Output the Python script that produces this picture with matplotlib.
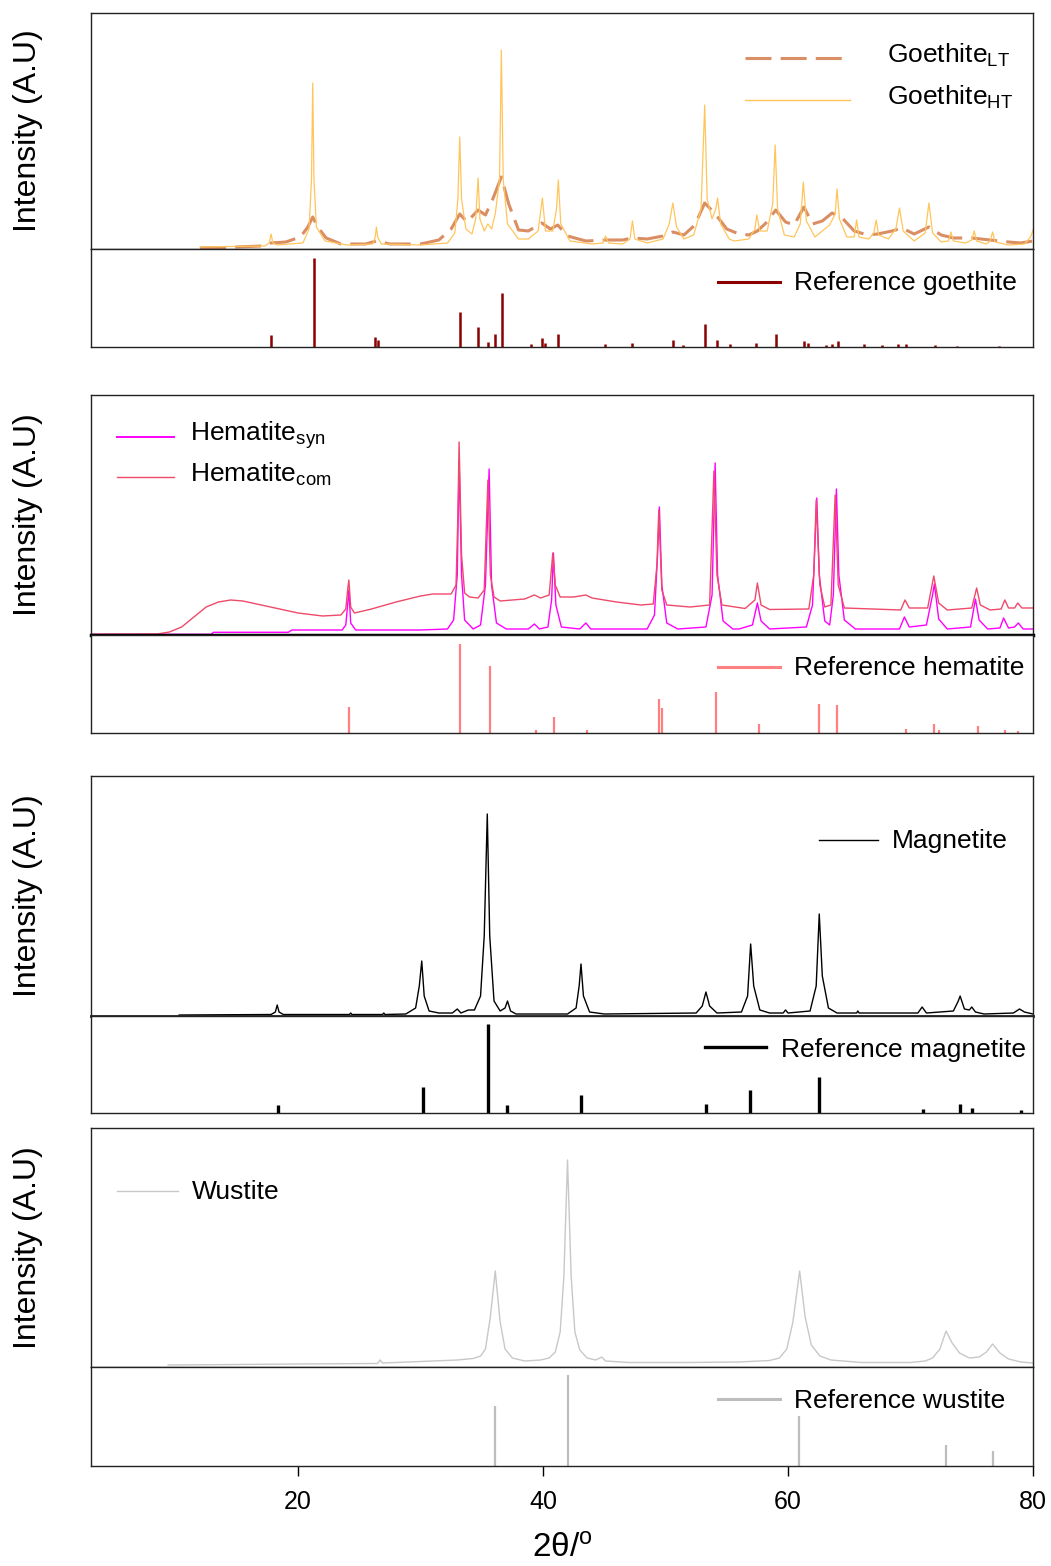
import matplotlib
matplotlib.use("Agg")
import matplotlib.pyplot as plt

plt.rcParams['font.family'] = ['Liberation Sans', 'DejaVu Sans']
plt.rcParams['mathtext.default'] = 'regular'

goethite_lt = [
    (12.0, 1), (14.0, 1.5), (17.0, 3), (17.8, 6), (19.0, 7), (20.2, 12), (20.8, 22),
    (21.2, 32), (21.6, 22), (22.3, 11), (23.5, 5), (25.5, 5), (26.4, 8), (27.5, 5),
    (30.0, 5), (31.5, 9), (32.5, 20), (33.2, 35), (33.8, 27), (34.7, 39), (35.3, 34),
    (35.9, 50), (36.6, 72), (37.2, 45), (38.0, 19), (38.8, 18), (39.9, 26), (40.6, 20),
    (41.2, 24), (42.0, 13), (43.5, 8), (45.2, 9), (46.5, 9), (47.3, 11), (48.5, 10),
    (49.8, 13), (50.6, 17), (51.5, 14), (52.4, 24), (53.2, 46), (54.0, 36), (55.0, 20),
    (56.0, 15), (56.8, 14), (57.5, 18), (58.2, 26), (59.0, 39), (59.8, 27), (60.5, 24),
    (61.3, 42), (62.0, 25), (62.8, 28), (63.6, 36), (64.5, 30), (65.4, 18), (66.5, 14),
    (67.3, 15), (68.5, 18), (69.3, 21), (70.3, 15), (71.5, 22), (72.5, 14), (73.5, 11),
    (75.0, 11), (76.5, 9), (78.0, 7), (79.0, 6), (80.0, 8),
]
goethite_ht = [
    (12.0, 2), (17.3, 3), (17.65, 6), (17.8, 15), (17.95, 6), (18.3, 4),
    (20.4, 6), (20.9, 20), (21.1, 70), (21.2, 166), (21.3, 70), (21.5, 22), (22.2, 8),
    (24.0, 4), (26.1, 5), (26.3, 12), (26.4, 22), (26.5, 12), (26.8, 5),
    (30.0, 4), (32.2, 6), (32.8, 16), (33.05, 50), (33.2, 112), (33.35, 50), (33.7, 20),
    (34.2, 15), (34.5, 30), (34.7, 71), (34.85, 30), (35.2, 18), (35.5, 25), (35.8, 20),
    (36.1, 35), (36.45, 70), (36.6, 199), (36.75, 70), (37.1, 25), (38.0, 10), (38.8, 10),
    (39.6, 18), (39.95, 51), (40.2, 18), (40.8, 18), (41.1, 40), (41.25, 69), (41.45, 25),
    (42.2, 8), (44.0, 5), (44.9, 6), (45.1, 13), (45.35, 6), (46.5, 5), (47.1, 10),
    (47.3, 28), (47.5, 10), (48.5, 6), (49.8, 10), (50.3, 25), (50.6, 46), (50.9, 22),
    (51.5, 10), (52.3, 14), (52.9, 40), (53.2, 144), (53.4, 50), (53.8, 30), (54.1, 40),
    (54.25, 51), (54.5, 25), (55.2, 10), (55.6, 8), (56.8, 10), (57.3, 20), (57.45, 34),
    (57.7, 18), (58.3, 18), (58.75, 45), (58.95, 104), (59.15, 40), (59.7, 14), (60.5, 12),
    (61.0, 25), (61.25, 67), (61.5, 28), (62.2, 12), (62.8, 18), (63.4, 24), (63.85, 35),
    (64.0, 60), (64.2, 30), (64.8, 12), (65.4, 12), (65.6, 29), (65.8, 12), (66.6, 10),
    (67.0, 16), (67.2, 29), (67.4, 14), (68.2, 10), (68.8, 20), (69.1, 41), (69.4, 18),
    (70.3, 8), (71.2, 16), (71.5, 46), (71.8, 16), (72.5, 7), (73.1, 8), (73.3, 17),
    (73.5, 8), (74.5, 6), (75.0, 9), (75.2, 18), (75.4, 8), (76.2, 5), (76.5, 8),
    (76.7, 17), (76.9, 7), (78.0, 4), (79.3, 5), (79.8, 12), (80.0, 19),
]
hematite_syn = [
    (3.0, 0.7), (12.9, 0.7), (13.1, 2.7), (19.2, 2.7), (19.5, 5), (23.6, 5), (23.9, 10),
    (24.05, 30), (24.15, 45), (24.3, 12), (24.7, 5), (30.0, 5), (32.2, 6), (32.7, 15),
    (33.0, 60), (33.15, 175), (33.35, 60), (33.6, 15), (34.3, 6), (34.9, 10), (35.3, 50),
    (35.6, 166), (35.8, 50), (36.2, 12), (37.0, 6), (38.8, 6), (39.3, 11), (39.7, 6),
    (40.4, 8), (40.7, 35), (40.85, 82), (41.05, 30), (41.5, 8), (43.0, 6), (43.5, 12),
    (43.9, 6), (48.5, 6), (49.1, 20), (49.35, 80), (49.5, 128), (49.7, 50), (50.1, 12),
    (51.0, 6), (53.3, 8), (53.8, 40), (54.05, 172), (54.25, 60), (54.7, 14), (55.5, 6),
    (56.0, 6), (57.1, 10), (57.5, 32), (57.8, 14), (58.5, 6), (61.5, 8), (62.0, 30),
    (62.35, 137), (62.55, 60), (63.0, 14), (63.4, 10), (63.7, 40), (63.95, 146),
    (64.15, 60), (64.6, 15), (65.5, 6), (69.1, 6), (69.5, 18), (69.9, 8), (71.3, 10),
    (71.8, 40), (71.95, 51), (72.3, 16), (73.0, 6), (74.9, 8), (75.3, 36), (75.6, 15),
    (76.3, 6), (77.3, 7), (77.6, 17), (78.0, 7), (78.5, 8), (78.8, 12), (79.2, 6), (80.0, 6),
]
hematite_com = [
    (3.0, 0.7), (8.5, 1), (9.5, 3), (10.5, 8), (11.5, 18), (12.5, 28), (13.5, 33),
    (14.5, 35), (15.5, 34), (17.0, 30), (18.5, 26), (20.0, 22), (22.0, 19), (23.5, 20),
    (23.9, 26), (24.05, 45), (24.15, 55), (24.3, 28), (24.6, 22), (26.0, 26), (28.0, 33),
    (30.0, 39), (31.0, 41), (32.5, 41), (32.9, 50), (33.05, 120), (33.15, 193),
    (33.35, 80), (33.6, 42), (34.0, 38), (34.7, 37), (35.2, 45), (35.5, 155), (35.7, 60),
    (36.0, 38), (36.5, 34), (38.5, 36), (39.3, 40), (39.8, 37), (40.5, 40), (40.8, 82),
    (41.0, 50), (41.4, 38), (42.5, 38), (43.5, 40), (44.0, 37), (46.0, 33), (48.0, 30),
    (49.0, 31), (49.3, 70), (49.45, 125), (49.7, 45), (50.1, 30), (52.0, 28), (53.6, 30),
    (53.95, 164), (54.2, 60), (54.6, 30), (56.5, 26.5), (57.3, 35), (57.5, 52), (57.8, 30),
    (58.5, 25.5), (61.7, 26), (62.1, 60), (62.3, 135), (62.6, 50), (63.0, 28), (63.5, 30),
    (63.85, 140), (64.1, 50), (64.6, 27), (69.2, 25), (69.55, 35), (69.9, 27), (71.4, 27),
    (71.9, 59), (72.3, 32), (73.0, 25), (75.0, 27), (75.4, 47), (75.7, 30), (76.5, 25),
    (77.4, 26), (77.7, 35), (78.0, 27), (78.5, 27), (78.75, 32), (79.1, 27), (80.0, 27),
]
magnetite = [
    (10.3, 1), (17.8, 1.5), (18.15, 4), (18.3, 11), (18.45, 4), (18.8, 1.5), (24.2, 1.5),
    (24.3, 3), (24.4, 1.5), (26.9, 1.5), (27.0, 3), (27.1, 1.5), (28.8, 2), (29.6, 8),
    (29.9, 30), (30.1, 55), (30.3, 20), (30.7, 5), (31.5, 3), (32.6, 3), (33.0, 7),
    (33.3, 3), (33.9, 6), (34.4, 6), (34.9, 20), (35.2, 80), (35.45, 202), (35.65, 80),
    (36.0, 15), (36.5, 5), (36.9, 8), (37.1, 15), (37.35, 5), (37.8, 2), (42.0, 2),
    (42.7, 8), (42.95, 30), (43.1, 52), (43.3, 20), (43.8, 4), (45.0, 2), (52.5, 3),
    (53.0, 10), (53.3, 24), (53.6, 10), (54.2, 3), (56.2, 4), (56.7, 20), (56.95, 72),
    (57.2, 30), (57.7, 6), (58.5, 3), (59.6, 3), (59.8, 6), (60.0, 3), (61.8, 5),
    (62.3, 30), (62.55, 102), (62.8, 40), (63.3, 8), (64.0, 3), (65.6, 3), (65.7, 5),
    (65.8, 3), (70.6, 3), (70.95, 9), (71.3, 3), (73.5, 5), (73.9, 15), (74.05, 20),
    (74.4, 7), (74.8, 6), (75.0, 9), (75.3, 4), (76.0, 2), (78.4, 3), (78.9, 7),
    (79.3, 4), (80.0, 2),
]
wustite = [
    (9.4, 2), (15.0, 2.5), (20.0, 3), (26.5, 3.5), (26.7, 7), (26.9, 4), (28.0, 4.5),
    (30.0, 5.5), (33.0, 7), (34.3, 8.5), (34.9, 11), (35.3, 18), (35.7, 50), (36.1, 96),
    (36.5, 45), (36.9, 18), (37.5, 9), (38.5, 6), (39.8, 7), (40.5, 9), (41.0, 15),
    (41.4, 35), (41.7, 90), (42.0, 207), (42.3, 90), (42.6, 35), (43.0, 17), (43.6, 9),
    (44.3, 7), (44.8, 10), (45.1, 6), (47.0, 4.5), (52.0, 4.5), (56.0, 5), (58.5, 6.5),
    (59.3, 9), (59.9, 18), (60.4, 45), (60.95, 96), (61.4, 50), (61.9, 22), (62.6, 11),
    (63.5, 7), (66.0, 4.5), (70.0, 4.5), (71.2, 6), (71.8, 9), (72.4, 18), (72.9, 36),
    (73.4, 24), (74.0, 14), (74.8, 9), (75.6, 10), (76.2, 15), (76.7, 23), (77.3, 14),
    (78.0, 8), (79.0, 5), (80.0, 4),
]

# ---- reference stick patterns: (2theta, relative intensity %) ----
ref_goethite = [
    (17.8, 12), (21.3, 91), (26.3, 10), (26.5, 7), (33.2, 36), (34.7, 20), (35.5, 5),
    (36.1, 13), (36.65, 55), (39.0, 3), (39.95, 9), (40.2, 4), (41.2, 13), (45.1, 3),
    (47.3, 4.5), (50.6, 7), (51.4, 2), (53.2, 23), (54.2, 7), (55.3, 3), (57.4, 4.5),
    (59.0, 13.5), (61.3, 6), (61.6, 4), (63.1, 2), (63.6, 3), (64.1, 6), (66.2, 3),
    (67.7, 2), (69.0, 3), (69.6, 3), (72.0, 2.5), (73.8, 1.5), (77.2, 1.5),
]
ref_hematite = [
    (24.2, 27), (33.2, 91), (35.7, 68), (39.4, 3), (40.9, 16), (43.6, 3), (49.5, 35),
    (49.7, 25), (54.1, 42), (57.6, 9), (62.5, 30), (64.0, 29), (69.6, 4), (71.9, 9),
    (72.3, 3), (75.5, 7), (77.7, 3), (78.8, 2),
]
ref_magnetite = [
    (18.4, 8), (30.2, 26.5), (35.5, 92), (37.1, 8), (43.1, 19), (53.3, 9), (56.9, 23.7),
    (62.5, 37), (71.0, 4), (74.0, 9), (75.0, 5), (79.0, 3),
]
ref_wustite = [(36.1, 60.5), (42.0, 92), (60.9, 50), (72.9, 21), (76.7, 15)]

xticks = [20, 40, 60, 80]

FS = 19

fig = plt.figure(figsize=(10.51, 15.66), dpi=100)
L, W = 0.08659, 0.89629
top_rects = [(0.84100, 0.15070), (0.59451, 0.15326), (0.35121, 0.15326), (0.12708, 0.15262)]
ref_rects = [(0.77842, 0.06258), (0.53193, 0.06258), (0.28927, 0.06194), (0.06386, 0.06322)]
top_h = [236, 240, 240, 239]


def style(ax):
    ax.set_xlim(3.1, 80)
    ax.set_yticks([])
    ax.tick_params(axis='x', bottom=False, labelbottom=False)
    for s in ax.spines.values():
        s.set_linewidth(1.0)
        s.set_color('#222222')


def key(ax, x0, x1, yl, xt, yt, label, **kw):
    ax.plot([x0, x1], [yl, yl], transform=ax.transAxes, clip_on=False, **kw)
    ax.text(xt, yt, label, transform=ax.transAxes, fontsize=FS, va='baseline')


tops, refs = [], []
for i in range(4):
    at = fig.add_axes([L, top_rects[i][0], W, top_rects[i][1]])
    ar = fig.add_axes([L, ref_rects[i][0], W, ref_rects[i][1]])
    style(at)
    style(ar)
    at.set_ylim(0, top_h[i])
    ar.set_ylim(0, 100)
    at.set_ylabel('Intensity (A.U)', fontsize=23)
    at.yaxis.set_label_coords(-0.051, 0.5)
    tops.append(at)
    refs.append(ar)

# panel 1: goethite
ax = tops[0]
x, y = zip(*goethite_lt)
ax.plot(x, y, color='#DA8E63', lw=2.2, dashes=(8.5, 3))
x, y = zip(*goethite_ht)
ax.plot(x, y, color='#FFC55C', lw=0.9)
key(ax, 0.694, 0.806, 0.808, 0.845, 0.787, 'Goethite$_{LT}$',
    color='#DA8E63', lw=2.2, dashes=(8.5, 3))
key(ax, 0.694, 0.806, 0.631, 0.845, 0.610, 'Goethite$_{HT}$', color='#FFC55C', lw=1.0)
ax = refs[0]
x, h = zip(*ref_goethite)
ax.vlines(x, 0, h, color='#8B0000', lw=1.8)
key(ax, 0.6656, 0.7314, 0.666, 0.7458, 0.582, 'Reference goethite', color='#8B0000', lw=2.2)

# panel 2: hematite
ax = tops[1]
x, y = zip(*hematite_syn)
ax.plot(x, y, color='#FF00FF', lw=1.0)
x, y = zip(*hematite_com)
ax.plot(x, y, color='#EE4A6A', lw=1.0)
key(ax, 0.0276, 0.0886, 0.826, 0.1047, 0.8096, 'Hematite$_{syn}$', color='#FF00FF', lw=1.4)
key(ax, 0.0276, 0.0886, 0.657, 0.1047, 0.639, 'Hematite$_{com}$', color='#EE4A6A', lw=1.0)
ax.spines['bottom'].set_linewidth(2.5)
ax.spines['bottom'].set_color('black')
ax = refs[1]
x, h = zip(*ref_hematite)
ax.vlines(x, 0, h, color='#FF8080', lw=1.6)
key(ax, 0.6656, 0.7314, 0.670, 0.7458, 0.592, 'Reference hematite', color='#FF8080', lw=2.2)

# panel 3: magnetite
ax = tops[2]
x, y = zip(*magnetite)
ax.plot(x, y, color='black', lw=1.0)
key(ax, 0.773, 0.835, 0.733, 0.850, 0.699, 'Magnetite', color='black', lw=1.0)
ax.spines['bottom'].set_linewidth(2.0)
ax = refs[2]
x, h = zip(*ref_magnetite)
ax.vlines(x, 0, h, color='black', lw=2.4)
key(ax, 0.6515, 0.717, 0.677, 0.733, 0.580, 'Reference magnetite', color='black', lw=2.4)

# panel 4: wustite
ax = tops[3]
x, y = zip(*wustite)
ax.plot(x, y, color='#C8C8C8', lw=1.0)
key(ax, 0.0276, 0.0919, 0.738, 0.1066, 0.703, 'Wustite', color='#C8C8C8', lw=1.0)
ax = refs[3]
x, h = zip(*ref_wustite)
ax.vlines(x, 0, h, color='#BDBDBD', lw=1.6)
key(ax, 0.6656, 0.7314, 0.674, 0.7458, 0.589, 'Reference wustite', color='#BDBDBD', lw=2.2)

ax.set_xticks(xticks)
ax.tick_params(axis='x', bottom=True, labelbottom=True, direction='out',
               length=7, width=1, pad=10, labelsize=18)
ax.set_xlabel('2θ/$^{o}$', fontsize=24)
ax.xaxis.set_label_coords(0.5, -0.68)

fig.savefig('out.png', dpi=100)
